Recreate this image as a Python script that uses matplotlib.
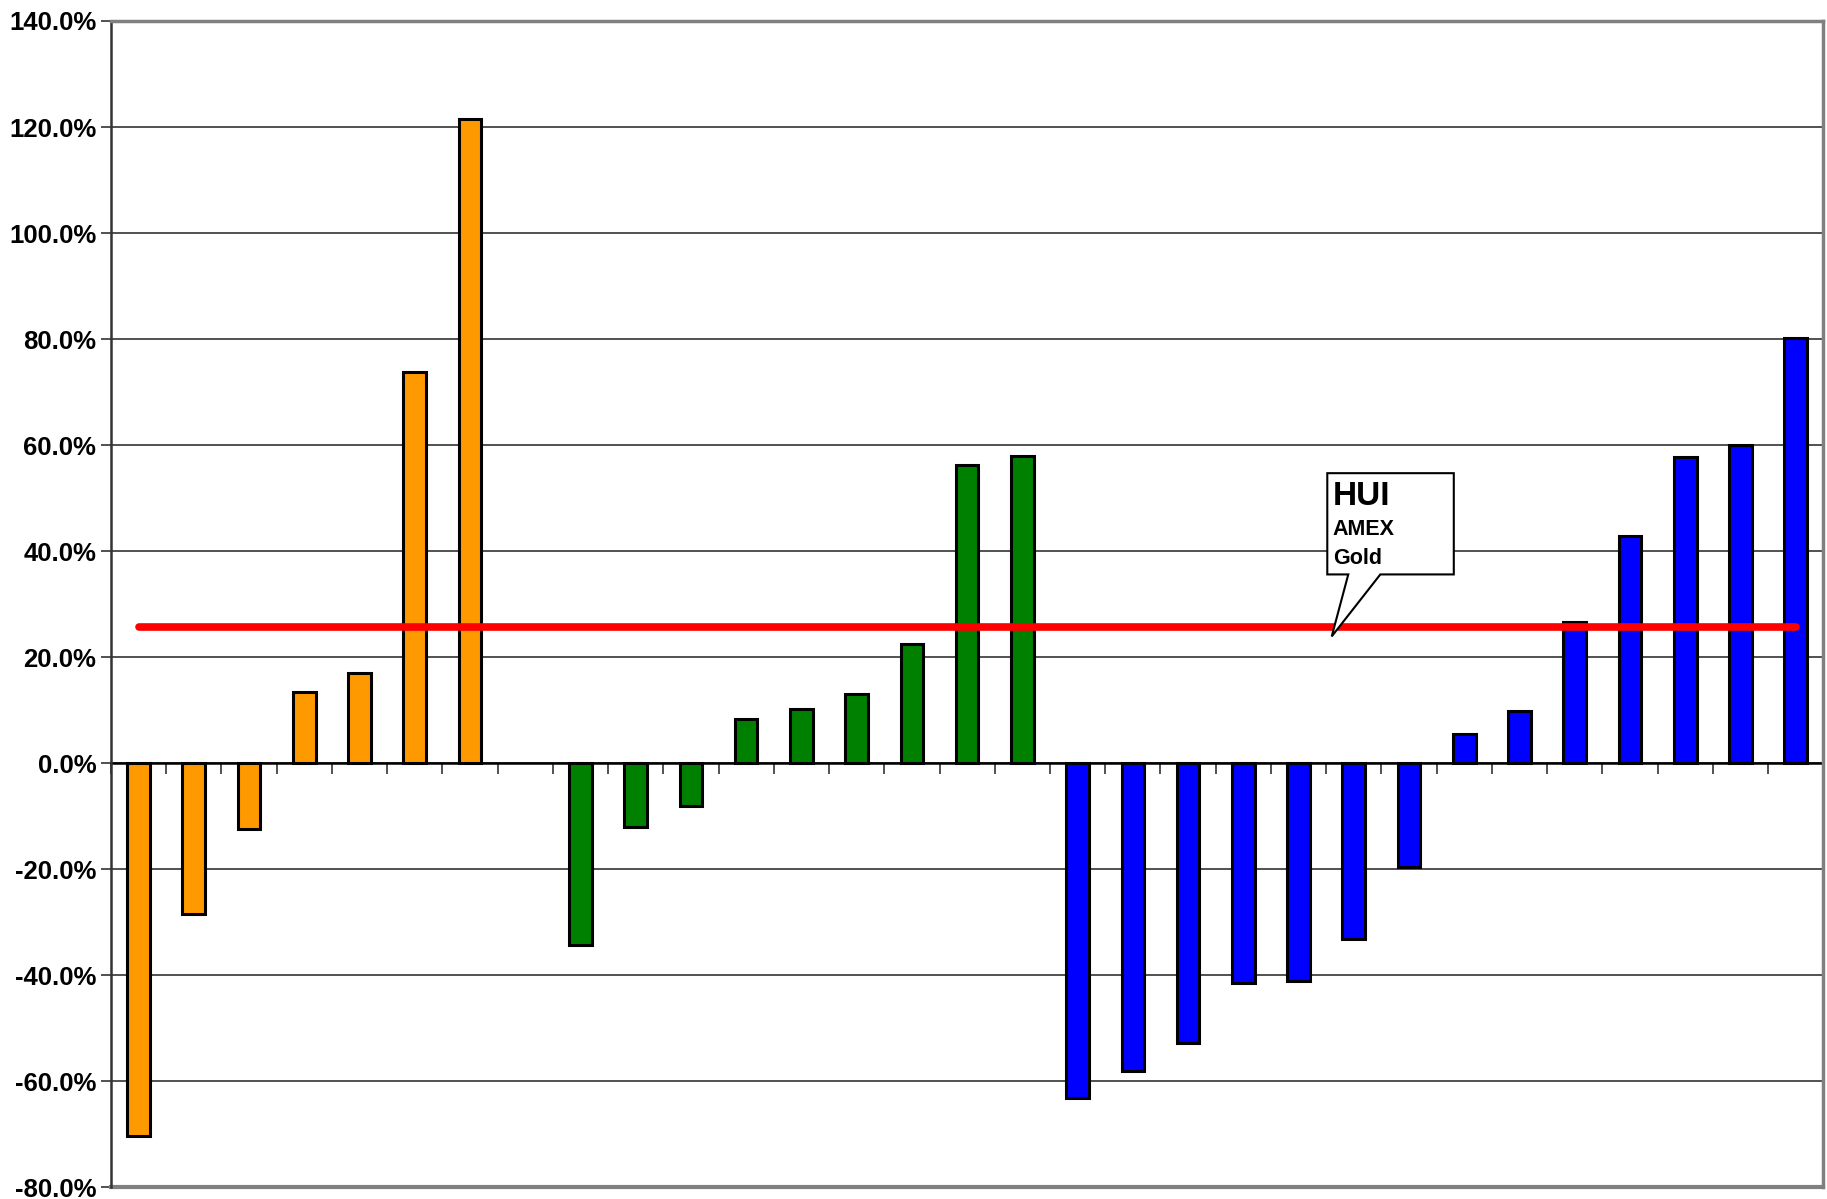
import matplotlib
matplotlib.use("Agg")
import matplotlib.pyplot as plt
from matplotlib.patches import Polygon
import numpy as np

plt.rcParams['font.family'] = ['Liberation Sans', 'DejaVu Sans']

orange_vals = [-70.3, -28.4, -12.5, 13.4, 17.1, 73.8, 121.5]
green_vals = [-34.3, -12.1, -8.1, 8.4, 10.3, 13.0, 22.4, 56.3, 58.0]
blue_vals = [-63.1, -58.0, -52.7, -41.5, -41.1, -33.2, -19.6, 5.5, 9.9, 26.6, 42.9, 57.8, 60.0, 80.2]
hui_avg = 25.7
y_ticks = [-80, -60, -40, -20, 0, 20, 40, 60, 80, 100, 120, 140]
callout_lines = ["HUI", "AMEX", "Gold"]

fig = plt.figure(figsize=(18.27, 11.99), dpi=100)
ax = fig.add_axes([0.0607, 0.0098, 0.9373, 0.9727])

n_orange = len(orange_vals)
n_green = len(green_vals)
n_blue = len(blue_vals)
x_orange = np.arange(n_orange)
x_green = np.arange(n_green) + n_orange + 1
x_blue = np.arange(n_blue) + n_orange + 1 + n_green
n_total = n_orange + 1 + n_green + n_blue

bw = 0.41
ax.bar(x_orange, orange_vals, width=bw, color='#FF9900', edgecolor='black', linewidth=2.2, zorder=3)
ax.bar(x_green, green_vals, width=bw, color='#008000', edgecolor='black', linewidth=2.2, zorder=3)
ax.bar(x_blue, blue_vals, width=bw, color='#0000FF', edgecolor='black', linewidth=2.2, zorder=3)

ax.plot([x_orange[0], x_blue[-1]], [hui_avg, hui_avg], color='#FF0000', linewidth=5.5,
        solid_capstyle='round', zorder=4)

ax.set_xlim(-0.5, n_total - 0.5)
ax.set_ylim(-80, 140)
ax.set_yticks(y_ticks)
ax.set_yticklabels([f"{v:.1f}%" for v in y_ticks], fontsize=18.5, fontweight='bold')
ax.yaxis.grid(True, color='#333333', linewidth=1.2, zorder=0)
ax.set_axisbelow(True)

# category axis crossing at zero with boundary ticks
ax.spines['bottom'].set_position(('data', 0))
ax.spines['bottom'].set_color('black')
ax.spines['bottom'].set_linewidth(1.8)
ax.spines['bottom'].set_zorder(2)
ax.set_xticks(np.arange(n_total + 1) - 0.5)
ax.set_xticklabels([])
ax.tick_params(axis='x', direction='out', length=8, width=1.2, color='#333333')
ax.tick_params(axis='y', direction='out', length=7, width=1.2, color='#333333')

# plot-area border at the bottom
ax.axhline(-80, color='#808080', linewidth=3, zorder=1, clip_on=False)

for s in ['top', 'right']:
    ax.spines[s].set_color('#808080')
    ax.spines[s].set_linewidth(2.5)
ax.spines['left'].set_color('#333333')
ax.spines['left'].set_linewidth(1.8)

# callout box
box_l, box_r, box_b, box_t = 21.52, 23.81, 35.6, 54.7
tip = (21.60, 23.9)
base1, base2 = 21.90, 22.48
poly = Polygon([(box_l, box_b), (box_l, box_t), (box_r, box_t), (box_r, box_b),
                (base2, box_b), tip, (base1, box_b)],
               closed=True, facecolor='white', edgecolor='black', linewidth=1.5, zorder=6)
ax.add_patch(poly)
ax.text(box_l + 0.1, 50.3, callout_lines[0], fontsize=24, fontweight='bold', va='center', ha='left', zorder=7)
ax.text(box_l + 0.1, 44.0, callout_lines[1], fontsize=15.5, fontweight='bold', va='center', ha='left', zorder=7)
ax.text(box_l + 0.1, 38.6, callout_lines[2], fontsize=15.5, fontweight='bold', va='center', ha='left', zorder=7)

fig.savefig("out.png", dpi=100, facecolor='white')
